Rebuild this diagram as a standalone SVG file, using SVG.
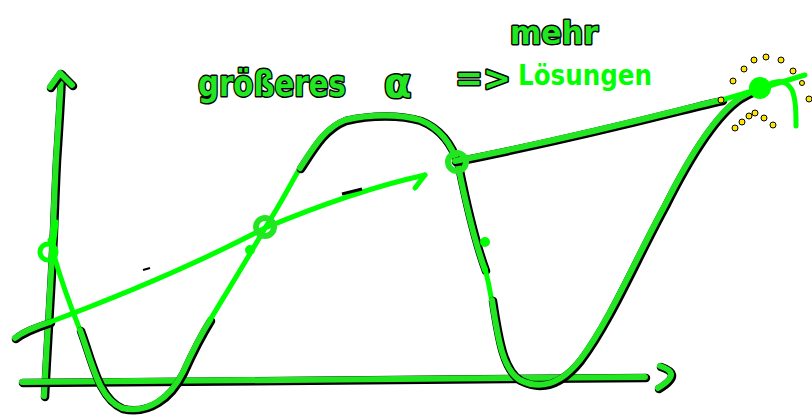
<svg xmlns="http://www.w3.org/2000/svg" xmlns:xlink="http://www.w3.org/1999/xlink" width="812" height="418" viewBox="0 0 812 418">
<style>
.sh{fill:none;stroke:#000;stroke-width:8.5;stroke-linecap:round;stroke-linejoin:round}
.g{fill:none;stroke:#22e622;stroke-width:6;stroke-linecap:round;stroke-linejoin:round}
.b{fill:none;stroke:#00ff00;stroke-width:5;stroke-linecap:round;stroke-linejoin:round}
.t{font-family:"DejaVu Sans","Liberation Sans",sans-serif;font-weight:bold;fill:#22e622;stroke:#000;stroke-width:3;paint-order:stroke;stroke-linejoin:round}
.tb{font-family:"DejaVu Sans","Liberation Sans",sans-serif;font-weight:bold;fill:#00ff00}
.y{fill:#ffe600;stroke:#000;stroke-width:1}
</style>
<defs>
<path id="yax" d="M44,396 C46,360 48,320 50,290 C53,240 54,200 56,160 C58,130 60,100 61,74"/>
<path id="yarr" d="M50,87 L60,73 L72,85"/>
<path id="xax" d="M22,382 C150,380 300,379 645,377"/>
<path id="xarr" d="M660,366 C672,370 678,376 658,388"/>
<path id="c1" d="M80,330 C92,362 98,398 122,408 C148,414 170,398 183,372 C192,352 200,336 210,320"/>
<path id="c2" d="M300,168 C315,145 325,128 345,120 C370,114 400,114 420,120 C440,128 452,145 458,165 C465,200 474,240 485,270"/>
<path id="c3" d="M492,300 C498,340 503,370 520,380 C540,390 560,385 580,360 C610,320 635,260 665,205 C690,155 715,115 740,98 C750,92 756,90 760,88"/>
<path id="l1" d="M15,338 C25,330 38,326 50,322"/>
<path id="l2" d="M455,161 C520,148 600,130 680,110 C700,105 712,102 722,100"/>
</defs>
<g id="axes">
<use xlink:href="#yax" class="sh" transform="translate(1,1)"/>
<use xlink:href="#yax" class="g"/>
<use xlink:href="#yarr" class="sh" transform="translate(1,1)"/>
<use xlink:href="#yarr" class="g"/>
<use xlink:href="#xax" class="sh" transform="translate(1,1)"/>
<use xlink:href="#xax" class="g"/>
<use xlink:href="#xarr" class="sh" transform="translate(1,1)"/>
<use xlink:href="#xarr" class="g"/>
<path class="b" d="M56,222 C55,232 54,242 52,252"/>
</g>
<g id="curve">
<path class="b" d="M50,240 C56,265 66,295 80,330"/>
<use xlink:href="#c1" class="sh" transform="translate(1,1)"/>
<use xlink:href="#c1" class="g"/>
<path class="b" d="M210,320 C228,290 248,258 265,228 C280,205 290,185 300,168"/>
<use xlink:href="#c2" class="sh" transform="translate(1,1)"/>
<use xlink:href="#c2" class="g"/>
<path class="b" d="M485,268 C488,280 490,290 492,302"/>
<use xlink:href="#c3" class="sh" transform="translate(1,1)"/>
<use xlink:href="#c3" class="g"/>
<path class="b" d="M762,88 C775,80 785,78 792,90 C796,100 796,112 796,126"/>
</g>
<g id="line">
<use xlink:href="#l1" class="sh" transform="translate(1,1)"/>
<use xlink:href="#l1" class="g"/>
<path class="b" d="M50,322 C120,296 200,262 265,228 C320,205 380,185 425,175"/>
<path d="M342,194 L362,189" stroke="#000" stroke-width="3" fill="none"/>
<path d="M143,270 L150,268" stroke="#000" stroke-width="2" fill="none"/>
<use xlink:href="#l2" class="sh" transform="translate(1,1)"/>
<use xlink:href="#l2" class="g"/>
<path class="b" d="M722,100 C750,92 775,84 805,75"/>
<path class="b" d="M425,175 L415,188" stroke-width="3"/>
</g>
<g id="points">
<circle cx="48" cy="252" r="8" fill="none" stroke="#00ff00" stroke-width="5"/>
<circle cx="265" cy="227" r="9" fill="none" stroke="#22e622" stroke-width="6"/>
<circle cx="457" cy="162" r="9" fill="none" stroke="#22e622" stroke-width="6"/>
<circle cx="760" cy="88" r="11" fill="#00ff00"/>
<circle cx="250" cy="250" r="5" fill="#00ff00"/>
<circle cx="485" cy="242" r="5" fill="#00ff00"/>
</g>
<g id="sparkles">
<circle class="y" cx="733" cy="81" r="3"/>
<circle class="y" cx="744" cy="69" r="3"/>
<circle class="y" cx="754" cy="60" r="3"/>
<circle class="y" cx="766" cy="57" r="3"/>
<circle class="y" cx="781" cy="60" r="3"/>
<circle class="y" cx="793" cy="71" r="3"/>
<circle class="y" cx="721" cy="100" r="3"/>
<circle class="y" cx="735" cy="128" r="3"/>
<circle class="y" cx="742" cy="122" r="3"/>
<circle class="y" cx="749" cy="116" r="3"/>
<circle class="y" cx="755" cy="113" r="3"/>
<circle class="y" cx="764" cy="118" r="3"/>
<circle class="y" cx="773" cy="125" r="3"/>
<circle class="y" cx="809" cy="99" r="3"/>
<circle class="y" cx="802" cy="83" r="2.5"/>
</g>
<g id="labels">
<text class="t" x="198" y="96" font-size="36" textLength="148" lengthAdjust="spacingAndGlyphs">größeres</text>
<text class="t" x="384" y="97" font-size="40">α</text>
<text class="t" x="455" y="90" font-size="34" textLength="56" lengthAdjust="spacingAndGlyphs">=&gt;</text>
<text class="t" x="510" y="44" font-size="32" textLength="88" lengthAdjust="spacingAndGlyphs">mehr</text>
<text class="tb" x="518" y="85" font-size="28" textLength="134" lengthAdjust="spacingAndGlyphs">Lösungen</text>
</g>
</svg>
